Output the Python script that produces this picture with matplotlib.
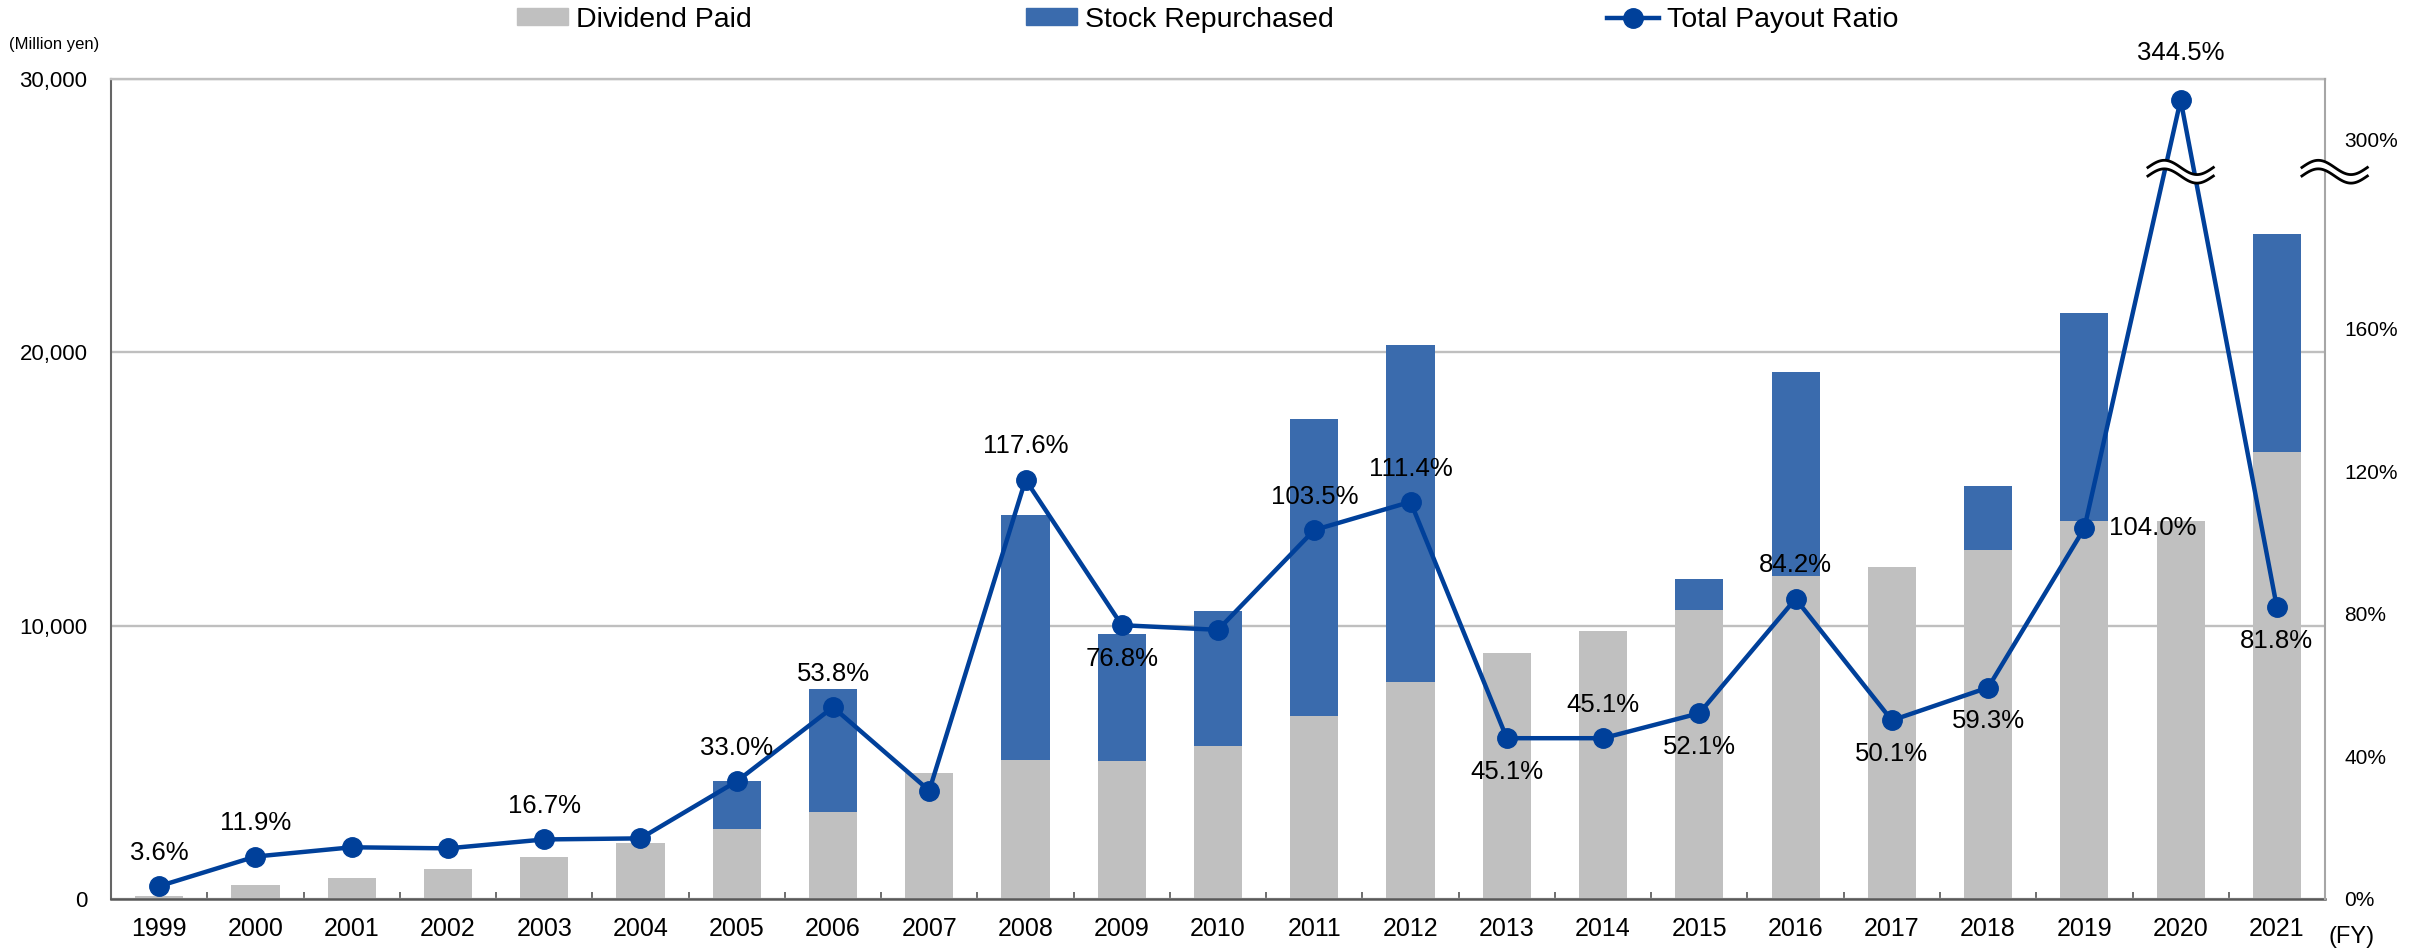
import numpy as np
import matplotlib
matplotlib.use('Agg')
import matplotlib.pyplot as plt
from matplotlib.lines import Line2D
from matplotlib.patches import Patch

years = [str(y) for y in range(1999, 2022)]
# million yen
dividend = [120, 510, 780, 1100, 1520, 2040, 2560, 3180, 4610, 5100, 5040, 5580,
            6710, 7950, 9000, 9800, 10580, 11820, 12160, 12780, 13820, 13830, 16360]
repurchase = [0, 0, 0, 0, 0, 0, 1760, 4515, 0, 8950, 4670, 4940,
              10840, 12330, 0, 0, 1120, 7470, 0, 2340, 7620, 0, 7970]
# total payout ratio, %
payout = [3.6, 11.9, 14.5, 14.2, 16.7, 17.0, 33.0, 53.8, 30.4, 117.6, 76.8, 75.5,
          103.5, 111.4, 45.1, 45.1, 52.1, 84.2, 50.1, 59.3, 104.0, 344.5, 81.8]
label_pos = ['above', 'above', None, None, 'above', None, 'above', 'above', None,
             'above', 'below', None, 'above', 'above', 'below', 'above', 'below',
             'above', 'below', 'below', 'right', 'top', 'below']

GRAY = '#C0C0C0'
BLUE = '#3A6BAD'
LINE = '#00409A'


def ratio_to_axis(v):
    # the right axis is broken: values above the break are squeezed into the top band
    return v if v <= 200 else 138 + v / 4


def draw_break(axis, xc, yc):
    t = np.linspace(0, 1, 80)
    xs = xc - 0.34 + 0.68 * t
    wave = 2.0 * np.sin(2 * np.pi * t)
    axis.fill_between(xs, yc - 1.2 + wave, yc + 1.2 + wave, color='white',
                      lw=0, zorder=6, clip_on=False)
    axis.plot(xs, yc + 1.2 + wave, color='black', lw=2, zorder=7, clip_on=False)
    axis.plot(xs, yc - 1.2 + wave, color='black', lw=2, zorder=7, clip_on=False)


plt.rcParams['font.family'] = ['Liberation Sans', 'DejaVu Sans']

fig = plt.figure(figsize=(24.3, 9.51), dpi=100)
ax = fig.add_axes([0.0457, 0.0547, 0.9111, 0.8622])
x = np.arange(len(years))

ax.bar(x, dividend, 0.5, color=GRAY, zorder=2)
ax.bar(x, repurchase, 0.5, bottom=dividend, color=BLUE, zorder=2)
ax.set_xlim(-0.5, len(years) - 0.5)
ax.set_ylim(0, 30000)
yt = [0, 10000, 20000, 30000]
ax.set_yticks(yt)
ax.set_yticklabels([f'{v:,}' for v in yt])
ax.yaxis.grid(True, color='#BFBFBF', lw=1.7)
ax.set_axisbelow(True)
ax.tick_params(axis='y', length=0, pad=17, labelsize=16)
ax.set_xticks(x)
ax.set_xticklabels(years)
ax.tick_params(axis='x', which='major', length=0, pad=13, labelsize=18)
ax.set_xticks(x[:-1] + 0.5, minor=True)
ax.tick_params(axis='x', which='minor', direction='in', length=5, width=1.2, color='#555555')
ax.spines['top'].set_color('#BFBFBF')
ax.spines['top'].set_linewidth(1.7)
ax.spines['left'].set_color('#666666')
ax.spines['left'].set_linewidth(1.5)
ax.spines['bottom'].set_color('#595959')
ax.spines['bottom'].set_linewidth(1.8)
ax.spines['right'].set_visible(False)

ax2 = ax.twinx()
for s in ['top', 'left', 'bottom']:
    ax2.spines[s].set_visible(False)
ax2.spines['right'].set_color('#A6A6A6')
ax2.spines['right'].set_linewidth(1.5)
ax2.set_ylim(0, 230)
rt = [0, 40, 80, 120, 160, 300]
ax2.set_yticks([ratio_to_axis(v) for v in rt])
ax2.set_yticklabels([f'{v}%' for v in rt])
ax2.tick_params(axis='y', length=0, pad=14, labelsize=15)

ax2.plot(x, [ratio_to_axis(v) for v in payout], color=LINE, lw=3.2,
         marker='o', ms=14, zorder=3, clip_on=False)

offsets = {'above': (0, 24, 'center'), 'below': (0, -24, 'center'),
           'right': (18, 0, 'left'), 'top': (0, 34, 'center')}
for xi, v, pos in zip(x, payout, label_pos):
    if pos is None:
        continue
    dx, dy, ha = offsets[pos]
    ax2.annotate(f'{v:.1f}%', (xi, ratio_to_axis(v)), xytext=(dx, dy),
                 textcoords='offset points', ha=ha, va='center', fontsize=18.5,
                 annotation_clip=False, zorder=8)

draw_break(ax2, 21, 204)
draw_break(ax2, 22.6, 204)

handles = [Patch(color=GRAY), Patch(color=BLUE),
           Line2D([], [], color=LINE, lw=3.2, marker='o', ms=14)]
fig.legend(handles, ['Dividend Paid', 'Stock Repurchased', 'Total Payout Ratio'],
           loc='center', bbox_to_anchor=(0.497, 0.979), ncol=3, frameon=False,
           fontsize=20.5, handlelength=1.8, handleheight=0.55, handletextpad=0.3,
           columnspacing=9.6, borderpad=0)

fig.text(54 / 2430, 1 - 45 / 951, '(Million yen)', ha='center', va='center', fontsize=12)
fig.text(2352 / 2430, 1 - 937 / 951, '(FY)', ha='center', va='center', fontsize=17)

fig.savefig('out.png', dpi=100)
